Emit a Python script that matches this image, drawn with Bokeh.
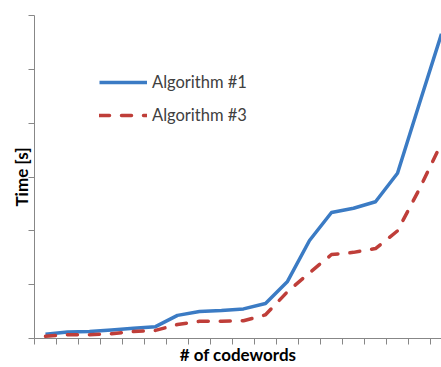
from bokeh.plotting import figure
from bokeh.models import Range1d, FixedTicker, Legend, LegendItem, CustomLabelingPolicy
from bokeh.embed import file_html
from bokeh.resources import INLINE

# data (time in axis units, 1 unit per y tick)
codewords = list(range(1, 20))
algo1 = [0.08, 0.12, 0.13, 0.16, 0.19, 0.22, 0.43, 0.50, 0.52, 0.55, 0.65,
         1.06, 1.82, 2.34, 2.42, 2.54, 3.07, 4.37, 5.66]
algo3 = [0.04, 0.07, 0.07, 0.09, 0.13, 0.15, 0.26, 0.32, 0.32, 0.33, 0.44,
         0.87, 1.22, 1.56, 1.60, 1.67, 2.00, 2.78, 3.63]
y_ticks = [0, 1, 2, 3, 4, 5, 6]
x_ticks = [c - 0.5 for c in codewords]

AX = "#878787"
BLUE = "#3B7BC4"
RED = "#BF3E39"

p = figure(width=441, height=367, output_backend="svg", toolbar_location=None,
           x_range=Range1d(0.5, 19.0), y_range=Range1d(0, 6),
           min_border_left=34, min_border_right=0, min_border_top=15,
           min_border_bottom=28)
p.outline_line_color = None
p.xgrid.visible = False
p.ygrid.visible = False
p.background_fill_color = "white"

r1 = p.line(codewords, algo1, line_color=BLUE, line_width=3.5, line_join="round")
r3 = p.line(codewords, algo3, line_color=RED, line_width=3.5, line_dash="10 12",
            line_cap="round", line_join="round")

hide_all = CustomLabelingPolicy(code="""
for (let i = 0; i < indices.size; i++) { indices.set(i, false) }
return indices
""")

for ax in (p.xaxis[0], p.yaxis[0]):
    ax.axis_line_color = AX
    ax.major_tick_line_color = AX
    ax.major_tick_in = 0
    ax.major_tick_out = 6
    ax.minor_tick_line_color = None
    ax.major_label_text_font_size = "0px"
    ax.major_label_policy = hide_all
    ax.axis_label_text_font = "Lato"
    ax.axis_label_text_font_style = "bold"
    ax.axis_label_text_font_size = "17px"
    ax.axis_label_text_color = "#000000"

p.xaxis.ticker = FixedTicker(ticks=x_ticks)
p.yaxis.ticker = FixedTicker(ticks=y_ticks)
p.xaxis.axis_label = "# of codewords"
p.yaxis.axis_label = "Time [s]"
p.xaxis.axis_label_standoff = -1
p.yaxis.axis_label_standoff = -3

legend = Legend(items=[LegendItem(label="Algorithm #1", renderers=[r1]),
                       LegendItem(label="Algorithm #3", renderers=[r3])],
                location=(65, 213), padding=0, margin=0, spacing=13,
                glyph_width=48, glyph_height=20, label_height=20,
                label_standoff=5, border_line_color=None,
                background_fill_alpha=0,
                label_text_font="Lato", label_text_font_size="16.5px",
                label_text_color="#404040")
p.add_layout(legend)

open("out.html", "w").write(file_html(p, INLINE))
